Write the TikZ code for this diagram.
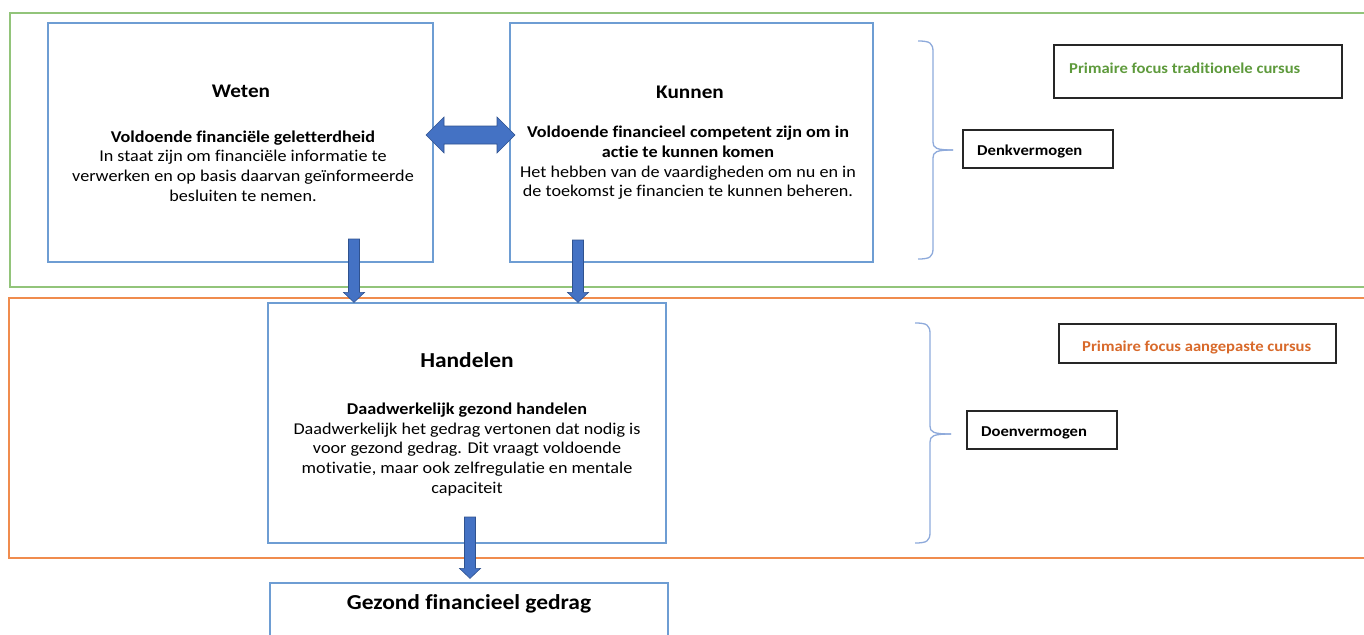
\documentclass[tikz,border=0pt]{standalone}
\usepackage{fontspec}
\setmainfont{Carlito}[FakeStretch=1.1, Ligatures=NoCommon]
\usetikzlibrary{calc}
\definecolor{boxblue}{HTML}{6E9DD3}
\definecolor{arrfill}{HTML}{4472C4}
\definecolor{arrdraw}{HTML}{2F528F}
\definecolor{framegreen}{HTML}{92C47A}
\definecolor{frameorange}{HTML}{F08C4E}
\definecolor{txtgreen}{HTML}{5E9A3C}
\definecolor{txtorange}{HTML}{D8692A}
\definecolor{bracecol}{HTML}{8EAADB}
\tikzset{
  mainbox/.style={draw=boxblue, line width=1.2pt, rectangle, inner sep=0pt},
  sidebox/.style={draw=black!85, line width=1.4pt, rectangle, inner sep=0pt},
  blockarrow/.style={fill=arrfill, draw=arrdraw, line width=0.6pt},
  bracestyle/.style={draw=bracecol, line width=1.3pt},
  titletext/.style={font=\bfseries\fontsize{19.3}{23}\selectfont},
  bigtitle/.style={font=\bfseries\fontsize{21.3}{25}\selectfont},
  bodytext/.style={align=center, inner sep=0pt, font=\fontsize{16.5}{19.7}\selectfont},
  sidetext/.style={font=\bfseries\fontsize{15.1}{17}\selectfont, inner sep=0pt, anchor=west}
}
\begin{document}
\begin{tikzpicture}[x=1pt,y=-1pt]
\useasboundingbox (0,0) rectangle (1364,634);
% frames
\draw[framegreen, line width=1.3pt] (1370,13) -- (10,13) -- (10,287) -- (1370,287);
\draw[frameorange, line width=1.3pt] (1370,298) -- (9,298) -- (9,558) -- (1370,558);
% main boxes
\node[mainbox, minimum width=385pt, minimum height=239pt] (weten) at (240.5,142.5) {};
\node[mainbox, minimum width=363pt, minimum height=239pt] (kunnen) at (691.5,142.5) {};
\node[mainbox, minimum width=398pt, minimum height=240pt] (handelen) at (467,423) {};
\node[mainbox, minimum width=398pt, minimum height=80pt] (gezond) at (469,623) {};
% texts
\node[titletext] (wetent) at (241,91) {Weten};
\node[bodytext] (wetenb) at (243,166) {\textbf{Voldoende financiële geletterdheid}\\In staat zijn om financiële informatie te\\verwerken en op basis daarvan geïnformeerde\\besluiten te nemen.};
\node[titletext] (kunnent) at (690,92) {Kunnen};
\node[bodytext] (kunnenb) at (688,163) {\textbf{Voldoende financieel competent zijn om in}\\\textbf{actie te kunnen komen}\\Het hebben van de vaardigheden om nu en in\\de toekomst je financien te kunnen beheren.};
\node[bigtitle] (handelent) at (467,360) {Handelen};
\node[bodytext] (handelenb) at (467,449.5) {\textbf{Daadwerkelijk gezond handelen}\\Daadwerkelijk het gedrag vertonen dat nodig is\\voor gezond gedrag. Dit vraagt voldoende\\motivatie, maar ook zelfregulatie en mentale\\capaciteit};
\node[bigtitle] (gezondt) at (469,604) {Gezond financieel gedrag};
% side boxes
\node[sidebox, minimum width=288pt, minimum height=53pt] (trad) at (1198,71.5) {};
\node[sidetext, text=txtgreen] (tradt) at (1069,68) {Primaire focus traditionele cursus};
\node[sidebox, minimum width=150pt, minimum height=38pt] (denk) at (1038,149) {};
\node[sidetext] (denkt) at (977,151) {Denkvermogen};
\node[sidebox, minimum width=277pt, minimum height=39pt] (aang) at (1197.5,343.5) {};
\node[sidetext, text=txtorange] (aangt) at (1082,347) {Primaire focus aangepaste cursus};
\node[sidebox, minimum width=150pt, minimum height=38pt] (doen) at (1042,430) {};
\node[sidetext] (doent) at (981,433) {Doenvermogen};
% double arrow
\coordinate (dl) at (426,135);
\coordinate (dr) at (515,135);
\draw[blockarrow] (dl) -- ($(dl)+(18,-18)$) -- ($(dl)+(18,-9)$) -- ($(dr)+(-18,-9)$) -- ($(dr)+(-18,-18)$) -- (dr)
  -- ($(dr)+(-18,18)$) -- ($(dr)+(-18,9)$) -- ($(dl)+(18,9)$) -- ($(dl)+(18,18)$) -- cycle;
% down arrows
\coordinate (a1s) at (354,239);
\coordinate (a1t) at (a1s |- handelen.north);
\coordinate (a2s) at (578,240);
\coordinate (a2t) at (a2s |- handelen.north);
\coordinate (a3s) at (470,517);
\coordinate (a3t) at ($(a3s |- gezond.north)+(0,-4)$);
\foreach \s/\t in {a1s/a1t, a2s/a2t, a3s/a3t}{
  \draw[blockarrow] ($(\s)+(-5.5,0)$) -- ($(\t)+(-5.5,-10)$) -- ($(\t)+(-10.5,-10)$) -- (\t)
    -- ($(\t)+(10.5,-10)$) -- ($(\t)+(5.5,-10)$) -- ($(\s)+(5.5,0)$) -- cycle;
}
% braces
\coordinate (b1tip) at (953,150);
\draw[bracestyle] (918,41) .. controls (930,41) and (933,43) .. (933,52) -- (933,142)
  .. controls (933,148) and (936,150) .. (b1tip);
\draw[bracestyle] (b1tip) .. controls (936,150) and (933,152) .. (933,158) -- (933,248)
  .. controls (933,257) and (930,259) .. (918,259);
\coordinate (b2tip) at (951,434);
\draw[bracestyle] (915,323) .. controls (927,323) and (930,325) .. (930,334) -- (930,426)
  .. controls (930,432) and (933,434) .. (b2tip);
\draw[bracestyle] (b2tip) .. controls (933,434) and (930,436) .. (930,442) -- (930,532)
  .. controls (930,541) and (927,543) .. (915,543);
\end{tikzpicture}
\end{document}
